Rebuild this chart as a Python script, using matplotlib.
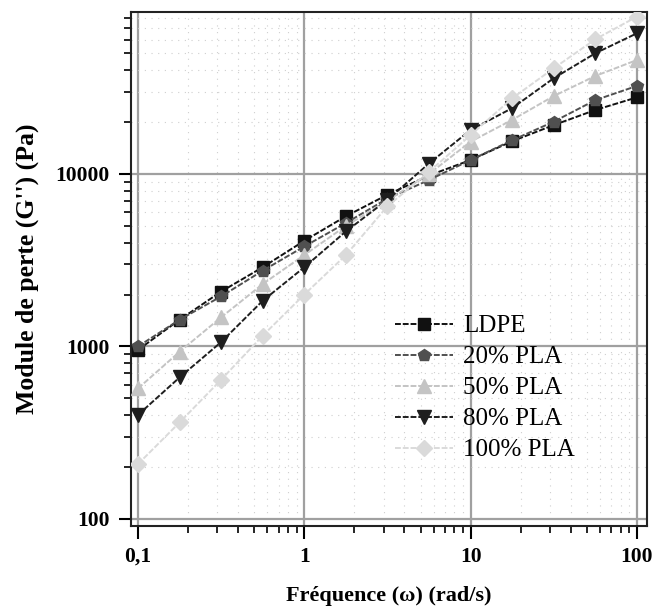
import matplotlib
matplotlib.use("Agg")
import matplotlib.pyplot as plt
from matplotlib.ticker import LogLocator, FixedLocator, FixedFormatter, NullFormatter

freq = [0.1, 0.178, 0.316, 0.562, 1.0, 1.78, 3.16, 5.62, 10.0, 17.8, 31.6, 56.2, 100.0]
ldpe = [955, 1430, 2080, 2880, 4100, 5690, 7580, 9800, 12050, 15500, 19200, 23500, 27800]
pla20 = [1000, 1430, 1950, 2750, 3800, 5200, 7200, 9230, 12050, 15700, 20100, 26800, 32400]
pla50 = [571, 933, 1475, 2300, 3390, 5000, 7000, 10000, 15400, 20600, 28300, 37000, 45800]
pla80 = [401, 662, 1060, 1840, 2880, 4650, 7080, 11500, 18000, 24100, 35900, 50100, 65400]
pla100 = [208, 363, 641, 1155, 2000, 3390, 6500, 10300, 16800, 27500, 41000, 60400, 81700]

labels = ["LDPE", "20% PLA", "50% PLA", "80% PLA", "100% PLA"]
series = [ldpe, pla20, pla50, pla80, pla100]
colors = ["#111111", "#505050", "#c4c4c4", "#1e1e1e", "#dadada"]
markers = ["s", "p", "^", "v", "D"]
msizes = [8, 9, 10, 10, 8]

xticks = [0.1, 1, 10, 100]
xticklabels = ["0,1", "1", "10", "100"]
yticks = [100, 1000, 10000]
yticklabels = ["100", "1000", "10000"]

plt.rcParams['font.family'] = ['Liberation Serif', 'DejaVu Serif']

fig = plt.figure(figsize=(6.52, 6.09), dpi=100)
ax = fig.add_axes([0.2005, 0.1363, 0.7918, 0.8445])

for y, lab, c, m, ms in zip(series, labels, colors, markers, msizes):
    ax.plot(freq, y, color=c, linestyle=(0, (3, 1)), linewidth=1.4,
            marker=m, markersize=ms, markerfacecolor=c, markeredgecolor=c,
            label=lab, zorder=3)

ax.set_xscale("log")
ax.set_yscale("log")
ax.set_xlim(0.0904, 115)
ax.set_ylim(91, 87300)

ax.xaxis.set_major_locator(FixedLocator(xticks))
ax.xaxis.set_major_formatter(FixedFormatter(xticklabels))
ax.xaxis.set_minor_locator(LogLocator(base=10, subs=range(2, 10), numticks=20))
ax.xaxis.set_minor_formatter(NullFormatter())
ax.yaxis.set_major_locator(FixedLocator(yticks))
ax.yaxis.set_major_formatter(FixedFormatter(yticklabels))
ax.yaxis.set_minor_locator(LogLocator(base=10, subs=range(2, 10), numticks=20))
ax.yaxis.set_minor_formatter(NullFormatter())

ax.grid(True, which="major", color="#a0a0a0", linewidth=1.6, zorder=1)
ax.grid(True, which="minor", color="#cfcfcf", linewidth=0.8, linestyle=(0, (1, 5)), zorder=1)
ax.set_axisbelow(True)

ax.tick_params(which="major", direction="out", length=9, width=1.5, labelsize=15.5, pad=6)
ax.tick_params(which="minor", direction="out", length=5, width=1.2)
for lab in ax.get_xticklabels() + ax.get_yticklabels():
    lab.set_fontweight("bold")
for sp in ax.spines.values():
    sp.set_linewidth(1.5)
    sp.set_color("#222222")

ax.set_xlabel("Fréquence (ω) (rad/s)", fontsize=16, fontweight="bold", labelpad=14)
ax.set_ylabel("Module de perte (G'') (Pa)", fontsize=18.5, fontweight="bold", labelpad=12)

leg = ax.legend(loc="upper left", bbox_to_anchor=(0.493, 0.43), frameon=False,
                fontsize=18, handlelength=2.3, labelspacing=0.34, handletextpad=0.4,
                borderaxespad=0)

fig.savefig("out.png", dpi=100)
